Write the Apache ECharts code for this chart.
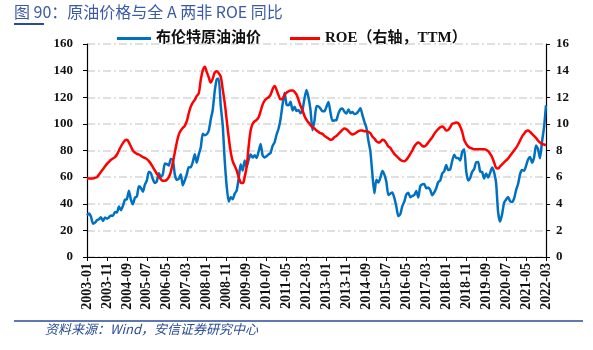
<!DOCTYPE html>
<html>
<head>
<meta charset="utf-8">
<script src="https://cdn.jsdelivr.net/npm/echarts@6/dist/echarts.min.js"></script>
<style>
html,body{margin:0;padding:0;background:#fff;}
#chart{width:593px;height:350px;}
</style>
</head>
<body>
<div id="chart"></div>
<script>
// Monthly categories 2003-01 .. 2022-03
const startYear = 2003, endYear = 2022, endMonth = 3;
const months = [];
for (let y = startYear; y <= endYear; y++) {
  for (let m = 1; m <= 12; m++) {
    if (y === endYear && m > endMonth) break;
    months.push(y + '-' + (m < 10 ? '0' + m : m));
  }
}

// Brent crude oil price (left axis)
const brent = [
  31.3,32.7,30.3,25.0,25.8,27.6,28.4,29.8,27.1,29.6,28.8,29.8,
  31.2,30.9,33.8,33.4,37.9,35.2,38.4,43.0,43.4,49.8,43.1,39.6,
  44.5,45.5,53.1,51.9,49.0,54.3,57.6,64.1,62.9,58.5,55.5,56.9,
  63.0,60.2,62.1,70.3,69.8,68.7,73.7,73.2,62.0,58.0,58.7,62.2,
  53.7,57.6,62.1,67.4,67.5,71.3,77.2,70.8,77.1,82.3,92.5,91.5,
  92.2,94.8,103.3,110.4,124.6,133.5,133.9,113.9,99.1,72.8,53.2,41.6,
  44.9,43.4,47.6,49.9,59.0,69.6,65.0,72.5,67.7,73.2,77.0,74.7,
  76.4,74.3,79.3,84.9,76.3,74.8,75.6,77.1,78.2,83.5,86.1,92.0,
  96.5,103.7,114.6,123.3,114.5,113.9,116.7,110.1,112.8,109.6,110.5,107.9,
  110.7,119.3,125.5,119.8,110.3,95.2,102.6,113.4,113.0,111.5,109.5,109.5,
  112.9,116.5,108.5,102.3,102.6,102.9,107.9,111.0,111.6,109.1,107.8,110.8,
  108.1,108.9,107.5,107.8,109.5,111.8,106.8,101.6,97.1,87.4,79.4,62.3,
  47.8,58.1,55.9,59.5,64.6,61.9,56.5,46.5,47.6,48.4,44.3,38.0,
  30.7,32.2,38.2,41.6,46.9,48.3,44.9,45.8,46.6,49.5,44.7,53.3,
  54.6,54.9,51.6,52.3,50.3,46.4,48.5,51.7,56.2,57.5,62.7,64.4,
  69.1,65.3,66.0,72.1,76.9,74.4,74.3,72.5,78.9,81.0,64.7,57.4,
  59.4,64.0,66.1,71.2,71.3,64.2,63.9,59.0,62.8,59.7,63.2,67.3,
  63.6,55.5,33.7,26.6,32.1,40.8,43.2,45.0,41.9,41.4,43.9,50.2,
  54.8,62.3,65.4,64.8,68.5,73.2,75.2,70.8,74.5,83.7,81.1,74.2,
  86.5,97.1,114.0
];

// ROE (TTM, right axis)
const roe = [
  5.9,5.9,5.9,5.9,5.95,6.0,6.2,6.4,6.6,6.8,7.0,7.15,
  7.3,7.4,7.5,7.7,8.0,8.3,8.55,8.75,8.8,8.6,8.3,8.0,
  7.85,7.75,7.7,7.6,7.5,7.45,7.35,7.2,7.0,6.75,6.5,6.25,
  6.05,5.85,5.72,5.72,5.8,6.0,6.4,7.1,7.85,8.6,9.2,9.5,
  9.7,9.85,10.2,10.8,11.3,11.6,11.8,12.1,12.3,13.3,14.0,14.3,
  13.9,13.5,13.1,13.4,13.85,13.95,13.8,13.55,12.6,11.6,10.3,9.0,
  7.9,7.2,6.85,6.5,6.0,5.6,5.55,6.0,6.8,8.3,9.5,10.0,
  10.2,10.3,10.5,10.95,11.45,11.75,11.9,12.0,12.2,12.6,12.85,12.55,
  12.15,11.85,11.9,12.15,12.35,12.45,12.5,12.5,12.4,12.2,11.8,11.35,
  11.0,10.6,10.3,10.1,9.9,9.75,9.65,9.5,9.4,9.3,9.25,9.1,
  9.0,8.9,8.8,8.85,9.0,9.1,9.25,9.4,9.55,9.65,9.6,9.45,
  9.3,9.2,9.25,9.35,9.45,9.5,9.5,9.45,9.45,9.4,9.3,9.05,
  8.9,8.7,8.6,8.65,8.8,8.75,8.55,8.3,8.2,7.95,7.75,7.6,
  7.45,7.3,7.22,7.2,7.3,7.5,7.75,8.0,8.3,8.5,8.6,8.5,
  8.35,8.3,8.4,8.6,8.8,9.0,9.25,9.45,9.6,9.75,9.8,9.7,
  9.5,9.55,9.75,10.0,10.05,10.1,10.05,9.8,9.4,8.8,8.5,8.3,
  8.2,8.15,8.1,8.1,8.1,8.1,8.1,8.1,8.05,7.95,7.75,7.5,
  7.1,6.7,6.65,6.8,6.95,7.1,7.25,7.4,7.6,7.8,8.0,8.2,
  8.45,8.75,9.05,9.25,9.45,9.5,9.4,9.25,9.1,8.95,8.75,8.6,
  8.5,8.45,8.4
];

const leftTicks = {min: 0, max: 160, interval: 20};
const rightTicks = {min: 0, max: 16, interval: 2};
const seriesNames = ['布伦特原油油价', 'ROE（右轴，TTM）'];
const titleText = '图 90：原油价格与全 A 两非 ROE 同比';
const sourceText = '资料来源：Wind，安信证券研究中心';

const serif = '"Liberation Serif", "Times New Roman", "Noto Sans CJK SC", serif';
const gridDash = [8, 3, 2, 3];

const chart = echarts.init(document.getElementById('chart'), null, {renderer: 'canvas'});
chart.setOption({
  animation: false,
  backgroundColor: '#ffffff',
  grid: {left: 87, right: 47, top: 44, bottom: 93, containLabel: false},
  legend: [
    {
      left: 112, top: 26, data: [seriesNames[0]], icon: 'rect',
      itemWidth: 34, itemHeight: 3, itemGap: 4,
      textStyle: {fontFamily: serif, fontWeight: 'bold', fontSize: 15, color: '#111'}
    },
    {
      left: 285, top: 26, data: [seriesNames[1]], icon: 'rect',
      itemWidth: 30, itemHeight: 3, itemGap: 4,
      textStyle: {fontFamily: serif, fontWeight: 'bold', fontSize: 15, color: '#111'}
    }
  ],
  xAxis: {
    type: 'category',
    data: months,
    boundaryGap: false,
    axisLine: {lineStyle: {color: '#000', width: 1.2}},
    axisTick: {show: true, interval: 9, length: 4, lineStyle: {color: '#000'}},
    axisLabel: {
      interval: 9, rotate: 90, margin: 6,
      fontFamily: serif, fontWeight: 'bold', fontSize: 14, color: '#111'
    },
    splitLine: {show: false}
  },
  yAxis: [
    {
      type: 'value', min: leftTicks.min, max: leftTicks.max, interval: leftTicks.interval,
      position: 'left',
      axisLine: {show: true, lineStyle: {color: '#000', width: 1.2}},
      axisTick: {show: true, length: 4, lineStyle: {color: '#000'}},
      axisLabel: {margin: 14, fontFamily: serif, fontWeight: 'bold', fontSize: 13, color: '#111'},
      splitLine: {show: true, lineStyle: {color: '#d6d6d6', width: 1.5, type: gridDash}}
    },
    {
      type: 'value', min: rightTicks.min, max: rightTicks.max, interval: rightTicks.interval,
      position: 'right',
      axisLine: {show: true, lineStyle: {color: '#000', width: 1.2}},
      axisTick: {show: true, length: 4, lineStyle: {color: '#000'}},
      axisLabel: {margin: 10, fontFamily: serif, fontWeight: 'bold', fontSize: 13, color: '#111'},
      splitLine: {show: false}
    }
  ],
  series: [
    {
      name: seriesNames[0], type: 'line', yAxisIndex: 0, data: brent,
      showSymbol: false, smooth: 0.2,
      lineStyle: {color: '#0070C0', width: 2.5},
      itemStyle: {color: '#0070C0'}
    },
    {
      name: seriesNames[1], type: 'line', yAxisIndex: 1, data: roe,
      showSymbol: false, smooth: 0.4,
      lineStyle: {color: '#FF0000', width: 2.5},
      itemStyle: {color: '#FF0000'}
    }
  ],
  graphic: [
    {
      type: 'text', left: 14, top: 4,
      style: {text: titleText, fill: '#3B5BA5', font: '16px "Noto Sans CJK SC", "Noto Sans", sans-serif'}
    },
    {
      type: 'line', shape: {x1: 14, y1: 24, x2: 44, y2: 24},
      style: {stroke: '#2a4b96', lineWidth: 2}
    },
    {
      type: 'line', shape: {x1: 14, y1: 321, x2: 583, y2: 321},
      style: {stroke: '#2a4b96', lineWidth: 1.5}
    },
    {
      type: 'text', left: 45, top: 323,
      style: {text: sourceText, fill: '#2a4b96', font: 'italic 13px "Noto Sans CJK SC", "Noto Sans", sans-serif'}
    }
  ]
});
</script>
</body>
</html>
